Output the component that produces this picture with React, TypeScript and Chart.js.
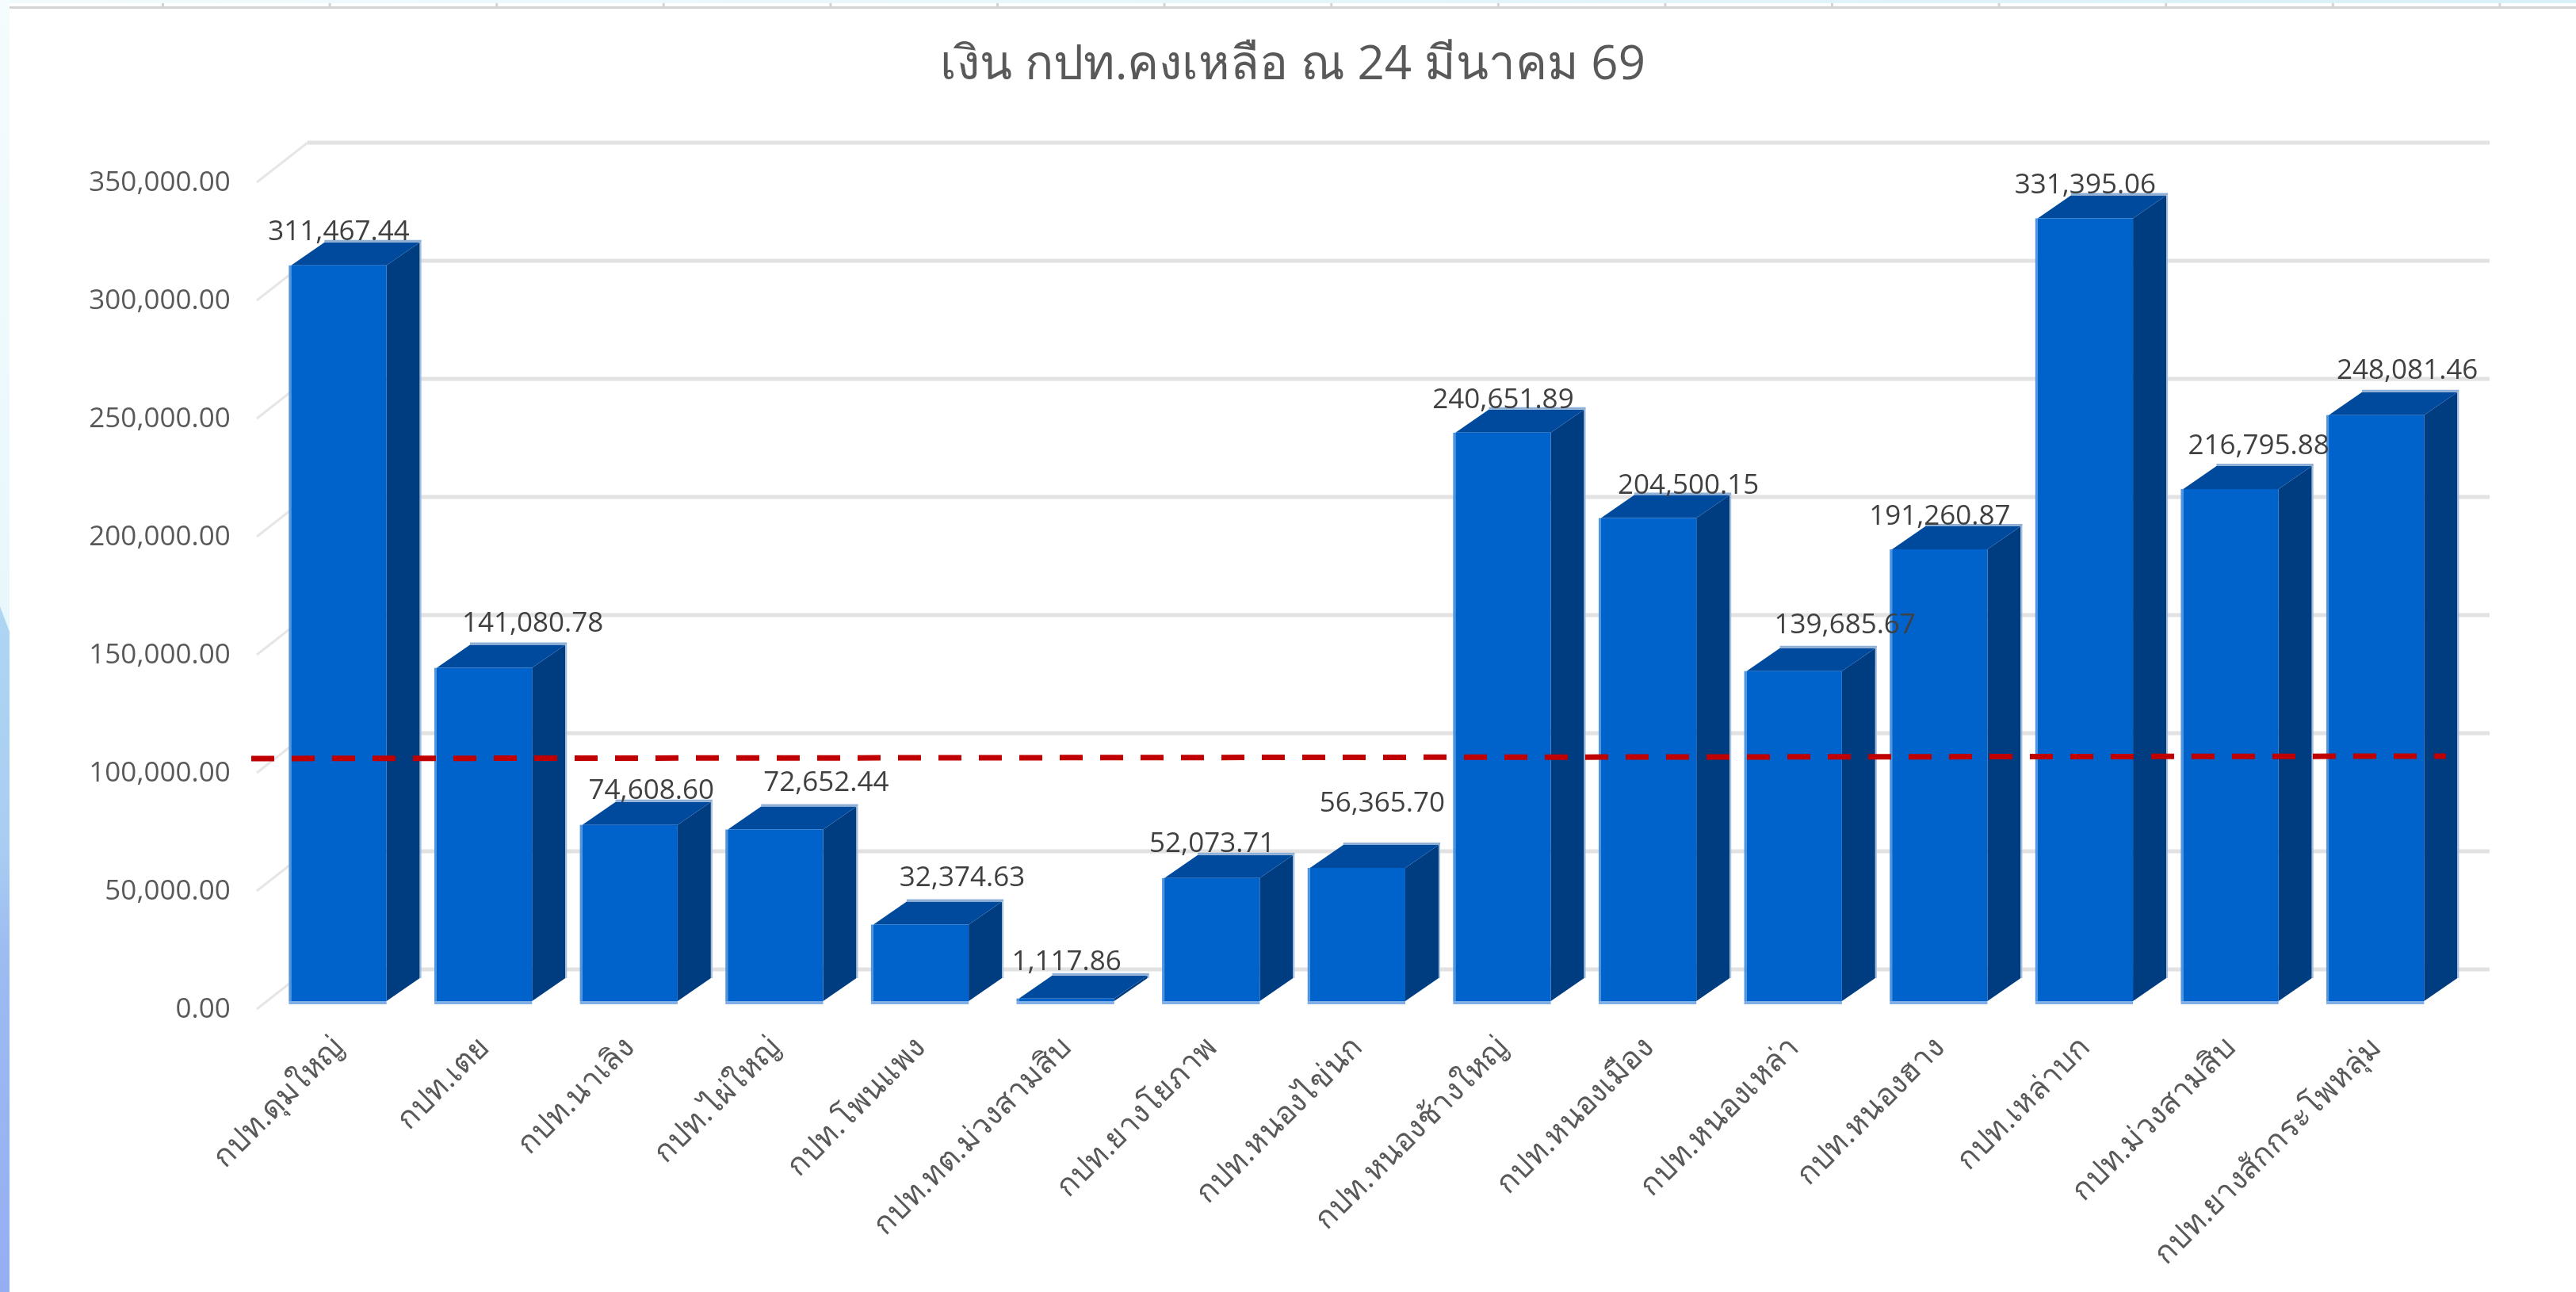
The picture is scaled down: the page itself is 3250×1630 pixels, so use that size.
import React, { useEffect, useRef } from "react";
import { Chart, registerables } from "chart.js";

Chart.register(...registerables);

const chartTitle = "เงิน กปท.คงเหลือ ณ 24 มีนาคม 69";
const categories = [
  "กปท.ดุมใหญ่",
  "กปท.เตย",
  "กปท.นาเลิง",
  "กปท.ไผ่ใหญ่",
  "กปท.โพนแพง",
  "กปท.ทต.ม่วงสามสิบ",
  "กปท.ยางโยภาพ",
  "กปท.หนองไข่นก",
  "กปท.หนองช้างใหญ่",
  "กปท.หนองเมือง",
  "กปท.หนองเหล่า",
  "กปท.หนองฮาง",
  "กปท.เหล่าบก",
  "กปท.ม่วงสามสิบ",
  "กปท.ยางสักกระโพหลุ่ม",
];
const balances = [
  311467.44, 141080.78, 74608.6, 72652.44, 32374.63, 1117.86, 52073.71, 56365.7,
  240651.89, 204500.15, 139685.67, 191260.87, 331395.06, 216795.88, 248081.46,
];
const referenceX = [-0.68, 99.85];
const referenceY = [102700, 103700];

// Hand-placed data label nudges of the original, in pixels from the bar's front top centre.
const labelNudgeX = [0, 61, 27, 64, 52, 0, 0, 31, 0, 50, 64, 0, 0, 35, 39];
const labelNudgeY = [42, 56, 43, 58, 58, 46, 43, 81, 41, 41, 58, 41, 41, 54, 56];

const FONT = '"Open Sans", "Noto Sans", sans-serif';
const fmt = (v: number) =>
  v.toLocaleString("en-US", { minimumFractionDigits: 2, maximumFractionDigits: 2 });

const DEPTH_X = 42;
const DEPTH_Y = 29;

const frame3d = {
  id: "frame3d",
  beforeDraw(chart: any) {
    const { ctx, width } = chart;
    ctx.save();
    const top = ctx.createLinearGradient(0, 0, width, 0);
    top.addColorStop(0, "#f1fbfd");
    top.addColorStop(1, "#d8f0f8");
    ctx.fillStyle = top;
    ctx.fillRect(0, 0, width, 4);
    ctx.fillStyle = "#f6fcfd";
    ctx.fillRect(0, 4, 12, 4);
    ctx.fillStyle = "#d4d4d4";
    ctx.fillRect(12, 8, width - 12, 3);
    for (let x = 204; x < width; x += 210.6) ctx.fillRect(x, 4, 3, 4);
    const upper = ctx.createLinearGradient(0, 0, 0, 800);
    upper.addColorStop(0, "#f4fcfd");
    upper.addColorStop(1, "#e8f7fb");
    ctx.fillStyle = upper;
    ctx.fillRect(0, 0, 12, 800);
    const lower = ctx.createLinearGradient(0, 770, 0, 1630);
    lower.addColorStop(0, "#aed6f3");
    lower.addColorStop(0.35, "#a9cdf2");
    lower.addColorStop(0.5, "#9dbcf1");
    lower.addColorStop(1, "#95aef2");
    ctx.fillStyle = lower;
    ctx.beginPath();
    ctx.moveTo(0, 765);
    ctx.lineTo(12, 797);
    ctx.lineTo(12, 1630);
    ctx.lineTo(0, 1630);
    ctx.closePath();
    ctx.fill();
    ctx.restore();
  },
  beforeDatasetsDraw(chart: any) {
    const { ctx, scales } = chart;
    const y = scales.y;
    ctx.save();
    // back wall gridlines and the receding tick lines at the left
    for (const tick of y.ticks) {
      const py = y.getPixelForValue(tick.value);
      ctx.strokeStyle = "#e6e6e6";
      ctx.lineWidth = 3;
      ctx.beginPath();
      ctx.moveTo(324, py + 10);
      ctx.lineTo(388, py - 40);
      ctx.stroke();
      ctx.strokeStyle = "#e2e2e2";
      ctx.lineWidth = 5;
      ctx.beginPath();
      ctx.moveTo(388, py - 40);
      ctx.lineTo(3141, py - 40);
      ctx.stroke();
    }
    // side and top faces of each bar
    for (const bar of chart.getDatasetMeta(0).data) {
      const l = bar.x - bar.width / 2;
      const r = bar.x + bar.width / 2;
      const t = bar.y;
      const b = bar.base;
      ctx.fillStyle = "#80aee6";
      ctx.fillRect(l - 3, b, r - l + 3, 4);
      ctx.fillStyle = "#4f94de";
      ctx.fillRect(l - 3, t, 3, b - t);
      ctx.fillStyle = "#003c80";
      ctx.beginPath();
      ctx.moveTo(r, t);
      ctx.lineTo(r + DEPTH_X, t - DEPTH_Y);
      ctx.lineTo(r + DEPTH_X, b - DEPTH_Y);
      ctx.lineTo(r, b);
      ctx.closePath();
      ctx.fill();
      ctx.strokeStyle = "#a4bedd";
      ctx.lineWidth = 2;
      ctx.beginPath();
      ctx.moveTo(r + DEPTH_X + 1, t - DEPTH_Y);
      ctx.lineTo(r + DEPTH_X + 1, b - DEPTH_Y);
      ctx.stroke();
      ctx.fillStyle = "#004a9e";
      ctx.beginPath();
      ctx.moveTo(l, t);
      ctx.lineTo(l + DEPTH_X, t - DEPTH_Y);
      ctx.lineTo(r + DEPTH_X, t - DEPTH_Y);
      ctx.lineTo(r, t);
      ctx.closePath();
      ctx.fill();
      ctx.strokeStyle = "#8fb0d6";
      ctx.lineWidth = 3;
      ctx.beginPath();
      ctx.moveTo(l + DEPTH_X, t - DEPTH_Y - 1.5);
      ctx.lineTo(r + DEPTH_X + 2, t - DEPTH_Y - 1.5);
      ctx.stroke();
    }
    ctx.restore();
  },
  afterDatasetsDraw(chart: any) {
    const { ctx } = chart;
    ctx.save();
    ctx.font = `35px ${FONT}`;
    ctx.fillStyle = "#404040";
    ctx.textAlign = "center";
    ctx.textBaseline = "middle";
    chart.getDatasetMeta(0).data.forEach((bar: any, i: number) => {
      ctx.fillText(fmt(balances[i]), bar.x + labelNudgeX[i], bar.y - labelNudgeY[i]);
    });
    ctx.restore();
  },
};

export default function App() {
  const ref = useRef<HTMLCanvasElement>(null);
  useEffect(() => {
    document.body.style.margin = "0";
    document.body.style.background = "#ffffff";
    document.body.style.overflow = "hidden";
    const chart = new Chart(ref.current!, {
      type: "bar",
      data: {
        labels: categories,
        datasets: [
          {
            type: "bar",
            label: "เงิน กปท.คงเหลือ",
            data: balances,
            backgroundColor: "#0063cc",
            barPercentage: 0.655,
            categoryPercentage: 1,
            grouped: false,
            xAxisID: "x",
            yAxisID: "y",
            order: 1,
          } as any,
          {
            type: "line",
            label: "เส้นอ้างอิง",
            data: referenceX.map((x, i) => ({ x, y: referenceY[i] })),
            xAxisID: "xLine",
            yAxisID: "y",
            borderColor: "#c00000",
            borderWidth: 7,
            borderDash: [29, 22],
            pointRadius: 0,
            clip: false,
            order: 0,
          } as any,
        ],
      },
      plugins: [frame3d],
      options: {
        animation: false,
        responsive: false,
        devicePixelRatio: 1,
        layout: { autoPadding: false, padding: { left: 12, right: 0, top: 0, bottom: 0 } },
        plugins: {
          legend: { display: false },
          tooltip: { enabled: false },
          title: {
            display: true,
            text: chartTitle,
            color: "#595959",
            font: { family: FONT, size: 60, weight: "normal", lineHeight: 1.2 },
            padding: { top: 47, bottom: 101 },
          },
        },
        scales: {
          x: {
            type: "category",
            grid: { display: false, drawTicks: false },
            border: { display: false },
            afterFit: (s: any) => {
              s.height = 367;
            },
            ticks: {
              autoSkip: false,
              maxRotation: 45,
              minRotation: 45,
              padding: 36,
              color: "#595959",
              font: { family: FONT, size: 39 },
            },
          },
          xLine: { type: "linear", display: false, offset: false, min: 0, max: 100 },
          y: {
            type: "linear",
            min: 0,
            max: 350000,
            grid: { display: false, drawTicks: false },
            border: { display: false },
            afterFit: (s: any) => {
              s.width = 323.7;
            },
            ticks: {
              stepSize: 50000,
              padding: 45,
              labelOffset: 11,
              color: "#595959",
              font: { family: FONT, size: 35 },
              callback: (v: any) => fmt(Number(v)),
            },
          },
          // Empty axis that holds the room to the right of the plot, where the back wall ends.
          yRoom: {
            type: "linear",
            position: "right",
            min: 0,
            max: 1,
            grid: { display: false, drawTicks: false },
            border: { display: false },
            ticks: { display: false },
            afterFit: (s: any) => {
              s.width = 160;
            },
          },
        },
      } as any,
    });
    return () => chart.destroy();
  }, []);
  return (
    <canvas
      ref={ref}
      width={3250}
      height={1630}
      style={{ display: "block", width: 3250, height: 1630, position: "absolute", left: 0, top: 0 }}
    />
  );
}
